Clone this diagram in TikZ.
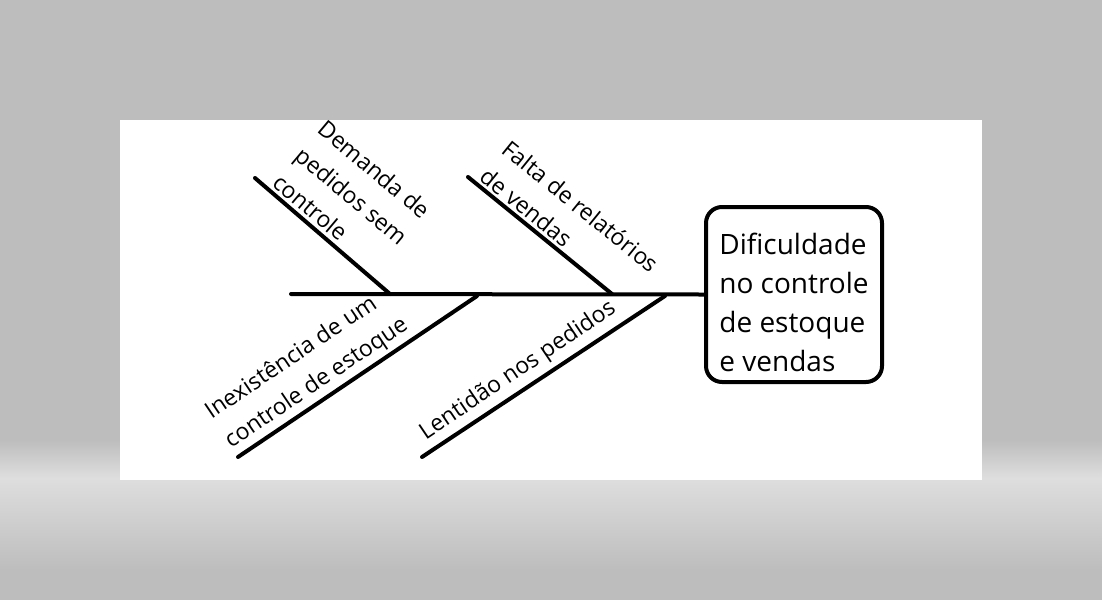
\documentclass[tikz,border=0pt]{standalone}
\usepackage{fontspec}
\setmainfont{Open Sans}
\usepackage{tikz}
\usetikzlibrary{positioning}
\definecolor{BgGray}{RGB}{188,189,188}
\definecolor{BgLight}{RGB}{221,222,221}

\begin{document}
\begin{tikzpicture}[x=1pt,y=-1pt,
    bone/.style={line width=4pt,line cap=round},
    cause/.style={align=left,inner sep=0pt,font=\fontsize{23}{35}\selectfont}]
    \useasboundingbox (0,0) rectangle (1102,600);
    % Background and white sheet
    \fill[BgGray] (0,0) rectangle (1102,440);
    \shade[top color=BgGray,bottom color=BgLight] (0,440) rectangle (1102,478);
    \shade[top color=BgLight,bottom color=BgGray] (0,478) rectangle (1102,570);
    \fill[BgGray] (0,570) rectangle (1102,600);
    \fill[white] (120,120) rectangle (982,480);

    % Effect box (head of the fish)
    \node[draw,line width=4pt,rounded corners=16pt,minimum width=176pt,minimum height=175pt,
          align=left,font=\fontsize{28}{39}\selectfont] (efeito) at (794,294.5)
          {\rule{0pt}{37pt}Dificuldade\\no controle\\de estoque\\e vendas};

    % Spine
    \coordinate (cauda) at (291,294);
    \draw[bone] (cauda) -- (efeito.west);

    % Bone end points
    \coordinate (demandaTop) at (255,178);
    \coordinate (demandaJ) at (390,294);
    \coordinate (faltaTop) at (468,177);
    \coordinate (faltaJ) at (612,294);
    \coordinate (inexBot) at (238,457);
    \coordinate (inexJ) at (477,296);
    \coordinate (lentBot) at (422,457);
    \coordinate (lentJ) at (665,296);

    % Bones
    \draw[bone] (demandaTop) -- (demandaJ);
    \draw[bone] (faltaTop) -- (faltaJ);
    \draw[bone] (inexBot) -- (inexJ);
    \draw[bone] (lentBot) -- (lentJ);

    % Cause labels
    \node[cause,rotate=-40] (demanda) at (352,196) {Demanda de\\pedidos sem\\controle};
    \node[cause,rotate=-39] (falta) at (570,220) {Falta de relatórios\\de vendas};
    \node[cause,rotate=34] (inex) at (307,369) {Inexistência de um\\controle de estoque};
    \node[cause,rotate=34] (lent) at (518,371) {Lentidão nos pedidos};
\end{tikzpicture}
\end{document}
